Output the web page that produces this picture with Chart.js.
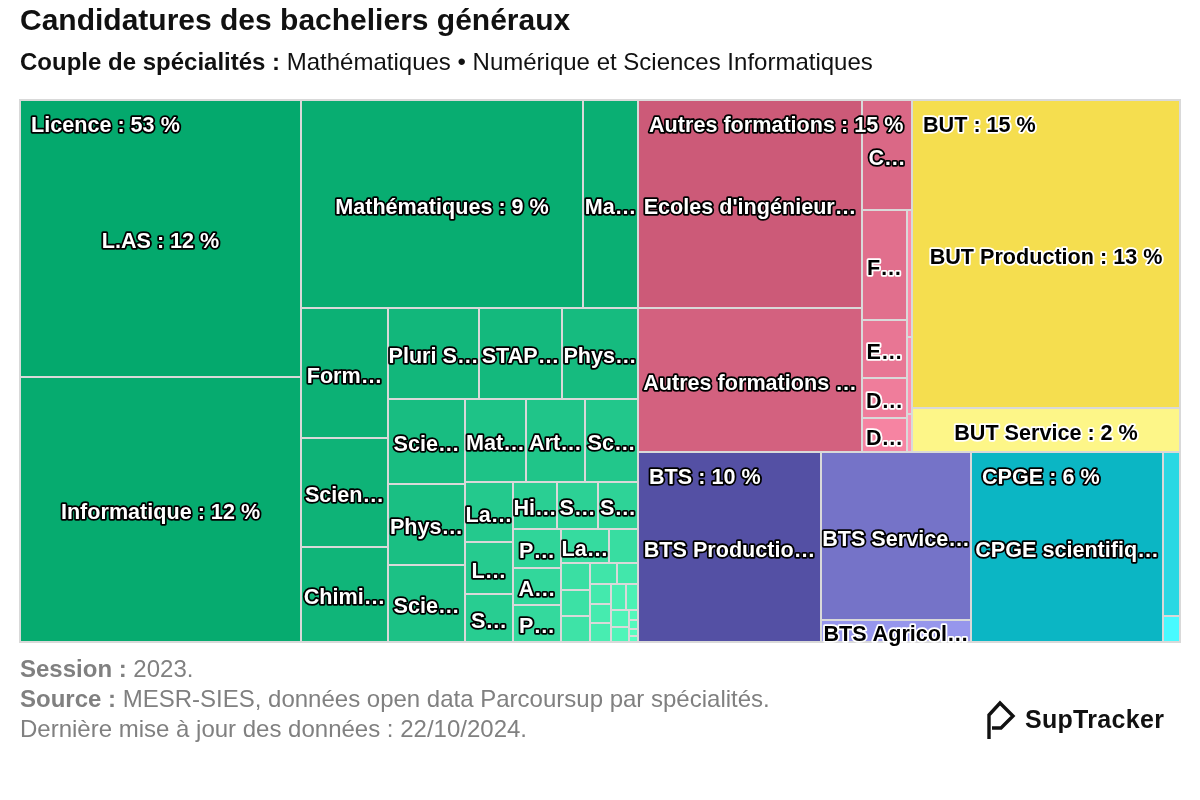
<!DOCTYPE html>
<html lang="fr">
<head>
<meta charset="utf-8">
<script src="https://cdn.jsdelivr.net/npm/chart.js@4.4.1/dist/chart.umd.min.js"></script>
<style>
html,body{margin:0;padding:0;background:#fff;width:1200px;height:800px;overflow:hidden;font-family:"Liberation Sans",Arial,Helvetica,sans-serif;}
#c{position:absolute;left:0;top:0;}
.t{position:absolute;left:20px;white-space:nowrap;}
#title{top:2px;font-size:30px;line-height:36px;font-weight:bold;color:#111;}
#sub{top:47px;font-size:24px;line-height:30px;color:#111;}
#foot{top:654px;font-size:24px;line-height:30px;color:#808080;}
#logo{position:absolute;left:984px;top:697px;height:44px;display:flex;align-items:center;}
#logo span{font-size:25px;font-weight:bold;color:#111;margin-left:9px;letter-spacing:0.3px;}
</style>
</head>
<body>
<canvas id="c" width="1200" height="800"></canvas>
<div id="title" class="t">Candidatures des bacheliers généraux</div>
<div id="sub" class="t"><b>Couple de spécialités :</b> Mathématiques • Numérique et Sciences Informatiques</div>
<div id="foot" class="t"><b>Session :</b> 2023.<br><b>Source :</b> MESR-SIES, données open data Parcoursup par spécialités.<br>Dernière mise à jour des données : 22/10/2024.</div>
<div id="logo"><svg width="32" height="44" viewBox="0 0 32 44"><path d="M5 42 L5 18 L16 6 L29 19 L17 31 L8 31" fill="none" stroke="#111" stroke-width="3.4" stroke-linejoin="miter"/></svg><span>SupTracker</span></div>
<script>
// ---------- DATA (shares of applications, %) ----------
const groupNames = ['Licence', 'Autres formations', 'BUT', 'BTS', 'CPGE'];

const licenceLabels = ['L.AS', 'Informatique', 'Mathématiques', 'Mathématiques et informatique',
  'Formations scientifiques', 'Sciences pour l\'ingénieur', 'Chimie', 'Pluri Sciences', 'STAPS', 'Physique',
  'Sciences de la vie', 'Physique, chimie', 'Sciences économiques', 'Mathématiques appliquées', 'Arts',
  'Sciences sociales', 'Langues et cultures', 'LEA', 'Sociologie', 'Histoire', 'Sciences de la Terre',
  'Sciences politiques', 'Philosophie', 'Administration économique et sociale', 'Physique appliquée',
  'Langues étrangères appliquées', 'Géographie', 'Droit', 'Économie et gestion', 'Électronique', 'Mécanique',
  'Biologie', 'Sciences de l\'éducation', 'Musicologie', 'Information et communication', 'Sciences du langage',
  'Gestion', 'Archéologie', 'Cinéma', 'Théologie', 'Arts plastiques', 'Sciences de la vie et de la Terre',
  'Sciences sanitaires et sociales'];
const licenceValues = [12.35, 11.85, 9.3, 1.84, 1.79, 1.49, 1.31, 1.30, 1.19, 1.10,
  1.04, 0.98, 0.94, 0.81, 0.79, 0.70, 0.458, 0.397, 0.366, 0.33,
  0.305, 0.30, 0.298, 0.285, 0.28, 0.26, 0.158, 0.125, 0.124, 0.122,
  0.088, 0.068, 0.066, 0.064, 0.062, 0.06, 0.052, 0.05, 0.045, 0.015,
  0.012, 0.01, 0.008];

const autresLabels = ['Ecoles d\'ingénieurs', 'Autres formations diverses', 'CPES', 'Formations sanitaires',
  'Ecoles de commerce', 'DN MADE', 'DCG', 'Mise à niveau', 'Formations artistiques', 'Formations sociales'];
const autresValues = [7.41, 5.10, 0.875, 0.787, 0.415, 0.286, 0.243, 0.1, 0.06, 0.03];

const butLabels = ['BUT Production', 'BUT Service'];
const butValues = [13.08, 1.87];

const btsLabels = ['BTS Production', 'BTS Services', 'BTS Agricole'];
const btsValues = [5.53, 4.0, 0.52];

const cpgeLabels = ['CPGE scientifique', 'CPGE économique', 'CPGE littéraire'];
const cpgeValues = [5.8, 0.44, 0.07];

// ---------- STYLE ----------
const groupBaseColors = [[4, 169, 109], [204, 90, 120], [245, 222, 79], [84, 80, 164], [11, 182, 196]];
const groupColorSteps = [[2, 2, 2], [7, 7, 7], [8, 24, 57], [33, 35, 36], [31, 34, 31]];
const GAP = '#d9d9d9';
const LABEL_FONT = 'bold 21.6px "Liberation Sans", Arial, Helvetica, sans-serif';

const tree = [
  { name: groupNames[0], labels: licenceLabels, values: licenceValues },
  { name: groupNames[1], labels: autresLabels, values: autresValues },
  { name: groupNames[2], labels: butLabels, values: butValues },
  { name: groupNames[3], labels: btsLabels, values: btsValues },
  { name: groupNames[4], labels: cpgeLabels, values: cpgeValues }
];

// ---------- squarified layout (alternating direction, starting vertical) ----------
const aspect = (a, b) => Math.max(a / b, b / a);
function addElement(g, el) {
  g.lP.total = g.elArr[g.elArr.length - 1];
  g.total += el;
  if (g.direction === 0) {
    g.lW = g.nW;
    g.lP.lH = g.lP.total / g.lW;
    g.lP.lR = aspect(g.lW, g.lP.lH);
    g.nW = g.total / g.height;
    g.lP.nH = g.lP.total / g.nW;
    g.lP.nR = aspect(g.nW, g.lP.nH);
  } else {
    g.lH = g.nH;
    g.lP.lW = g.lP.total / g.lH;
    g.lP.lR = aspect(g.lP.lW, g.lH);
    g.nH = g.total / g.width;
    g.lP.nW = g.lP.total / g.nH;
    g.lP.nR = aspect(g.lP.nW, g.nH);
  }
  g.elArr.push(el);
}
function calcPoints(last, g, out, plot, parent) {
  let gW = g.lW, gH = g.lH, keep;
  const end = g.elArr.length - 1;
  if (last) { gW = g.nW; gH = g.nH; } else { keep = g.elArr[end]; }
  g.elArr.forEach((p, i) => {
    if (last || i < end) {
      let pW, pH;
      if (g.direction === 0) { pW = gW; pH = p / pW; } else { pH = gH; pW = p / pH; }
      out.push({ x: plot.x, y: plot.y, w: pW, h: pH });
      if (g.direction === 0) plot.y += pH; else plot.x += pW;
    }
  });
  g.nW = 0; g.lW = 0; g.elArr = []; g.total = 0;
  if (g.direction === 0) g.width -= gW; else g.height -= gH;
  plot.y = parent.y + (parent.h - g.height);
  plot.x = parent.x + (parent.w - g.width);
  g.direction = 1 - g.direction;
  if (!last) addElement(g, keep);
}
function squarified(parent, values) {
  const out = [];
  const pval = values.reduce((a, b) => a + b, 0);
  const plot = { x: parent.x, y: parent.y };
  const g = { height: parent.h, width: parent.w, direction: 0, total: 0, nW: 0, lW: 0, nH: 0, lH: 0,
    elArr: [], lP: { total: 0, lH: 0, nH: 0, lW: 0, nW: 0, nR: 0, lR: 0 } };
  const end = values.length - 1;
  values.forEach((v, i) => {
    addElement(g, parent.w * parent.h * (v / pval));
    if (g.lP.nR > g.lP.lR) calcPoints(false, g, out, plot, parent);
    if (i === end) calcPoints(true, g, out, plot, parent);
  });
  return out;
}

function shade(gi, i) {
  const b = groupBaseColors[gi], s = groupColorSteps[gi];
  return b.map((c, k) => Math.min(255, Math.round(c + s[k] * i)));
}
const rgb = c => `rgb(${c[0]},${c[1]},${c[2]})`;
const isLight = c => c[0] + c[1] + c[2] > 459;

function fitText(ctx, text, maxW) {
  if (ctx.measureText(text).width <= maxW) return text;
  for (let n = text.length - 1; n >= 1; n--) {
    const s = text.slice(0, n) + '…';
    if (ctx.measureText(s).width <= maxW) return s;
  }
  return null;
}
function drawLabel(ctx, text, x, y, light) {
  ctx.lineJoin = 'round';
  ctx.lineWidth = 3.6;
  ctx.strokeStyle = light ? '#ffffff' : '#000000';
  ctx.strokeText(text, x, y);
  ctx.fillStyle = light ? '#000000' : '#ffffff';
  ctx.fillText(text, x, y);
}

const treemapPlugin = {
  id: 'treemap',
  afterDatasetsDraw(chart) {
    const ctx = chart.ctx, xs = chart.scales.x, ys = chart.scales.y, area = chart.chartArea;
    const ratio = (xs.right - xs.left) / (ys.bottom - ys.top);
    const root = { x: 0, y: 0, w: 100 * ratio, h: 100 };
    const totals = tree.map(g => g.values.reduce((a, b) => a + b, 0));
    const gRects = squarified(root, totals);
    const toPx = r => ({
      x0: Math.round(xs.getPixelForValue(r.x / ratio)),
      x1: Math.round(xs.getPixelForValue((r.x + r.w) / ratio)),
      y0: Math.round(ys.getPixelForValue(r.y)),
      y1: Math.round(ys.getPixelForValue(r.y + r.h))
    });
    ctx.save();
    ctx.fillStyle = GAP;
    ctx.fillRect(area.left - 1, area.top - 1, area.right - area.left + 2, area.bottom - area.top + 2);
    const leafLabels = [], groupLabels = [];
    tree.forEach((g, gi) => {
      const gp = toPx(gRects[gi]);
      const cr = squarified(gRects[gi], g.values);
      cr.forEach((r, i) => {
        const p = toPx(r);
        const col = shade(gi, i);
        const w = p.x1 - p.x0 - 2, h = p.y1 - p.y0 - 2;
        if (w > 0 && h > 0) { ctx.fillStyle = rgb(col); ctx.fillRect(p.x0 + 1, p.y0 + 1, w, h); }
        leafLabels.push({ text: g.labels[i] + ' : ' + Math.round(g.values[i]) + ' %', p, light: isLight(col) });
      });
      groupLabels.push({ text: g.name + ' : ' + Math.round(totals[gi]) + ' %', p: gp, light: isLight(groupBaseColors[gi]) });
    });
    ctx.font = LABEL_FONT;
    ctx.textAlign = 'center';
    ctx.textBaseline = 'middle';
    leafLabels.forEach(l => {
      const s = fitText(ctx, l.text, l.p.x1 - l.p.x0);
      if (s) drawLabel(ctx, s, (l.p.x0 + l.p.x1) / 2, (l.p.y0 + l.p.y1) / 2 + 4, l.light);
    });
    ctx.textAlign = 'left';
    groupLabels.forEach(l => drawLabel(ctx, l.text, l.p.x0 + 11, l.p.y0 + 26, l.light));
    ctx.restore();
  }
};

new Chart(document.getElementById('c'), {
  type: 'scatter',
  data: { datasets: [{ data: [] }] },
  options: {
    responsive: false,
    animation: false,
    devicePixelRatio: 1,
    events: [],
    layout: { padding: { left: 20, top: 100, right: 20, bottom: 158 } },
    plugins: { legend: { display: false }, tooltip: { enabled: false } },
    scales: {
      x: { type: 'linear', min: 0, max: 100, display: false },
      y: { type: 'linear', min: 0, max: 100, reverse: true, display: false }
    }
  },
  plugins: [treemapPlugin]
});
</script>
</body>
</html>
